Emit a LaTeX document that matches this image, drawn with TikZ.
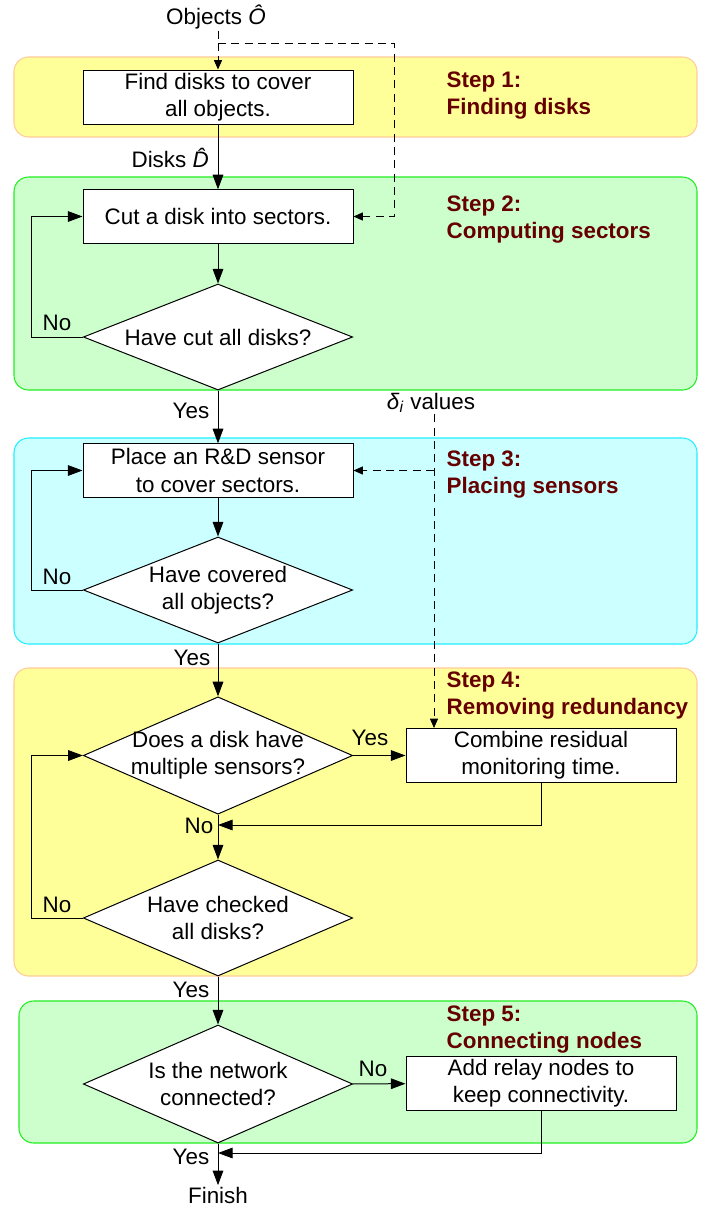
\documentclass[tikz,border=0pt]{standalone}
\usepackage{fontspec}
\setmainfont{Liberation Sans}
\usetikzlibrary{shapes.geometric,arrows.meta}
\definecolor{yfill}{HTML}{FFFF99}
\definecolor{yline}{HTML}{FFCC99}
\definecolor{gfill}{HTML}{CCFFCC}
\definecolor{gline}{HTML}{22EE22}
\definecolor{cfill}{HTML}{CCFFFF}
\definecolor{cline}{HTML}{22EEFF}
\definecolor{stepred}{HTML}{660000}
\begin{document}
\begin{tikzpicture}[x=0.75pt,y=-0.75pt,
  font=\fontsize{16.8}{20.3}\selectfont,
  band/.style={rounded corners=11pt, line width=0.8pt},
  proc/.style={draw, fill=white, minimum width=202.5pt, align=center, inner sep=0pt, line width=0.75pt},
  dec/.style={draw, fill=white, diamond, minimum width=202pt, inner sep=0pt, line width=0.75pt},
  txt/.style={inner sep=1pt},
  steplbl/.style={anchor=west, align=left, text=stepred, font=\fontsize{16.8}{20.3}\selectfont\bfseries},
  arr/.style={-{Triangle[length=11pt,width=8pt]}, line width=0.75pt},
  dline/.style={dash pattern=on 6pt off 4pt, line width=0.7pt},
  darr/.style={dline, -{Triangle[length=7pt,width=6pt]}}
]
\useasboundingbox (0,0) rectangle (717,1207);
\fill[white] (0,0) rectangle (717,1207);

% bands
\draw[band, fill=yfill, draw=yline] (14,57) rectangle (697,137);
\draw[band, fill=gfill, draw=gline] (14,177) rectangle (697,390);
\draw[band, fill=cfill, draw=cline] (14,438) rectangle (697,644);
\draw[band, fill=yfill, draw=yline] (14,668) rectangle (697,976);
\draw[band, fill=gfill, draw=gline] (19,1001) rectangle (697,1143);

% step labels
\node[steplbl] (s1) at (442,96) {Step 1:\\Finding disks};
\node[steplbl] (s2) at (442,220) {Step 2:\\Computing sectors};
\node[steplbl] (s3) at (442,475) {Step 3:\\Placing sensors};
\node[steplbl] (s4) at (442,696) {Step 4:\\Removing redundancy};
\node[steplbl] (s5) at (442,1030) {Step 5:\\Connecting nodes};

% nodes
\node[txt] (obj) at (216,17) {Objects \textit{Ô}};
\node[proc, minimum height=40.5pt] (b1) at (218,97) {Find disks to cover\\all objects.};
\node[proc, minimum height=40pt] (b2) at (218,216.5) {Cut a disk into sectors.};
\node[dec, minimum height=79.5pt, label={[align=center]center:Have cut all disks?}] (d2) at (218,337) {};
\node[txt] (dl) at (431,403) {\textit{δ}\textsubscript{\textit{i}} values};
\node[proc, minimum height=40pt] (b3) at (218,470.5) {Place an R\&D sensor\\to cover sectors.};
\node[dec, minimum height=79.5pt, label={[align=center]center:Have covered\\all objects?}] (d3) at (218,590) {};
\node[dec, minimum height=88pt, label={[align=center]center:Does a disk have\\multiple sensors?}] (d4a) at (218,755.5) {};
\node[proc, minimum height=40.5pt] (cb) at (541,755.5) {Combine residual\\monitoring time.};
\node[dec, minimum height=87pt, label={[align=center]center:Have checked\\all disks?}] (d4b) at (218,918) {};
\node[dec, minimum height=88.5pt, label={[align=center]center:Is the network\\connected?}] (d5) at (218,1084) {};
\node[proc, minimum height=40pt] (ar) at (541,1083.5) {Add relay nodes to\\keep connectivity.};
\node[txt] (fin) at (218,1195) {Finish};

% helper coordinates
\coordinate (c1) at (218,43);
\coordinate (c2) at (394,43);
\coordinate (l) at (31,0);
\coordinate (dx) at (434,0);
\coordinate (m1) at (218,825);
\coordinate (m2) at (218,1153);

% dashed inputs
\draw[dline] (obj.south -| c1) -- (c1);
\draw[darr] (c1) -- (b1.north);
\draw[darr] (c1) -- (c2) |- (b2.east);
\draw[darr] (dl.south -| dx) -- (dx |- cb.north);
\draw[darr] (dx |- b3.east) -- (b3.east);

% solid flow
\draw[arr] (b1) -- (b2);
\draw[arr] (b2) -- (d2);
\draw[arr] (d2.west) -- (d2.west -| l) |- (b2.west);
\draw[arr] (d2) -- (b3);
\draw[arr] (b3) -- (d3);
\draw[arr] (d3.west) -- (d3.west -| l) |- (b3.west);
\draw[arr] (d3) -- (d4a);
\draw[arr] (d4a) -- (cb);
\draw[arr] (cb.south) |- (m1);
\draw[arr] (d4a) -- (d4b);
\draw[arr] (d4b.west) -- (d4b.west -| l) |- (d4a.west);
\draw[arr] (d4b) -- (d5);
\draw[arr] (d5) -- (ar);
\draw[arr] (ar.south) |- (m2);
\draw[arr] (d5) -- (fin);

% edge labels
\node[txt] (t1) at (172,158) {Disks \textit{D̂}};
\node[txt] (n1) at (57,323) {No};
\node[txt] (y1) at (191,411) {Yes};
\node[txt] (n2) at (57,577) {No};
\node[txt] (y2) at (192,658) {Yes};
\node[txt] (y3) at (370,738) {Yes};
\node[txt] (n3) at (199,826) {No};
\node[txt] (n4) at (57,905) {No};
\node[txt] (y4) at (191,990) {Yes};
\node[txt] (n5) at (373,1069) {No};
\node[txt] (y5) at (191,1157) {Yes};
\end{tikzpicture}
\end{document}
